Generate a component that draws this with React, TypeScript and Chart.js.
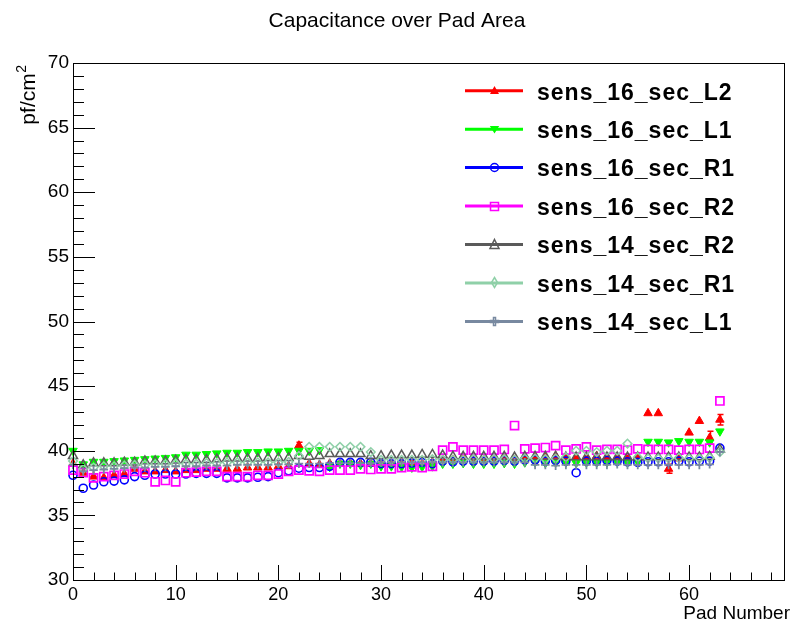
import React, { useEffect, useRef } from 'react';
import { Chart, registerables } from 'chart.js';

Chart.register(...registerables);

// ---------------- data ----------------
const padNumbers = [
  0, 1, 2, 3, 4, 5, 6, 7, 8, 9, 10, 11, 12, 13, 14, 15,
  16, 17, 18, 19, 20, 21, 22, 23, 24, 25, 26, 27, 28, 29, 30, 31,
  32, 33, 34, 35, 36, 37, 38, 39, 40, 41, 42, 43, 44, 45, 46, 47,
  48, 49, 50, 51, 52, 53, 54, 55, 56, 57, 58, 59, 60, 61, 62, 63,
];

const sens16L2 = [
  39.0, 38.3, 38.0, 37.9, 38.1, 38.2, 38.6, 38.4, 38.4, 38.5, 38.4, 38.5, 38.5, 38.6, 38.6, 38.6,
  38.6, 38.7, 38.7, 38.7, 38.8, 38.8, 40.4, 39.0, 38.9, 39.0, 39.0, 39.0, 39.0, 39.0, 39.0, 39.0,
  39.1, 39.1, 39.0, 39.1, 39.3, 39.3, 39.4, 39.4, 39.3, 39.4, 39.4, 39.3, 39.5, 39.5, 39.5, 39.6,
  39.5, 39.5, 39.5, 39.6, 39.5, 39.5, 39.4, 39.4, 42.9, 42.9, 38.6, 39.4, 41.4, 42.3, 41.0, 42.4,
];
const sens16L2Err = [
  0, 0, 0, 0, 0, 0, 0, 0, 0, 0, 0, 0, 0, 0, 0, 0,
  0, 0, 0, 0, 0, 0, 0.25, 0, 0, 0, 0, 0, 0, 0, 0, 0,
  0, 0, 0, 0, 0, 0, 0, 0, 0, 0, 0, 0, 0, 0, 0, 0,
  0, 0, 0, 0, 0, 0, 0, 0, 0, 0, 0.35, 0, 0, 0, 0.5, 0.4,
];
const sens16L1 = [
  40.0, 38.95, 39.15, 39.15, 39.2, 39.25, 39.3, 39.35, 39.4, 39.45, 39.5, 39.7, 39.7, 39.75, 39.8, 39.85,
  39.85, 39.9, 39.9, 39.95, 39.95, 40.0, 40.0, 40.0, 40.05, 38.75, 39.0, 39.0, 38.9, 39.0, 38.8, 38.8,
  38.75, 38.7, 38.75, 38.8, 39.0, 39.0, 39.05, 39.0, 39.0, 39.0, 39.05, 39.0, 39.1, 39.1, 39.05, 39.1,
  39.1, 39.05, 39.1, 39.1, 39.1, 39.15, 39.1, 39.15, 40.7, 40.7, 40.65, 40.75, 40.7, 40.7, 40.65, 41.5,
];
const sens16R1 = [
  38.1, 37.1, 37.35, 37.6, 37.65, 37.75, 38.0, 38.1, 38.2, 38.2, 38.2, 38.2, 38.25, 38.25, 38.25, 37.9,
  37.9, 37.9, 37.95, 38.0, 38.3, 38.45, 38.65, 38.7, 38.7, 38.8, 39.1, 39.1, 39.1, 39.1, 39.0, 39.0,
  39.0, 39.05, 39.1, 39.0, 39.2, 39.15, 39.2, 39.2, 39.2, 39.2, 39.25, 39.2, 39.3, 39.3, 39.2, 39.25,
  39.2, 38.3, 39.2, 39.2, 39.25, 39.2, 39.15, 39.1, 39.15, 39.15, 39.15, 39.2, 39.15, 39.2, 39.2, 40.2,
];
const sens16R2 = [
  38.5, 38.3, 37.9, 38.0, 38.1, 38.2, 38.4, 38.3, 37.6, 37.7, 37.6, 38.3, 38.35, 38.4, 38.4, 38.0,
  38.0, 38.0, 38.1, 38.1, 38.2, 38.4, 38.5, 38.45, 38.4, 38.5, 38.5, 38.5, 38.6, 38.55, 38.6, 38.6,
  38.7, 38.75, 38.7, 38.8, 40.05, 40.3, 40.05, 40.05, 40.05, 40.05, 40.1, 41.95, 40.15, 40.2, 40.25, 40.4,
  40.05, 40.15, 40.3, 40.05, 40.1, 40.1, 40.05, 40.15, 40.1, 40.1, 40.1, 40.05, 40.1, 40.1, 40.2, 43.85,
];
const sens14R2 = [
  39.6, 38.9, 39.05, 39.05, 39.05, 39.1, 39.1, 39.2, 39.2, 39.2, 39.25, 39.3, 39.3, 39.3, 39.35, 39.4,
  39.4, 39.4, 39.4, 39.45, 39.45, 39.45, 39.6, 39.55, 39.6, 39.75, 39.75, 39.75, 39.75, 39.6, 39.6, 39.65,
  39.65, 39.65, 39.7, 39.7, 39.65, 39.55, 39.55, 39.55, 39.55, 39.55, 39.55, 39.5, 39.55, 39.55, 39.55, 39.55,
  39.5, 39.5, 39.5, 39.5, 39.5, 39.5, 39.5, 39.5, 39.5, 39.5, 39.5, 39.5, 39.5, 39.5, 39.55, 40.1,
];
const sens14R1 = [
  39.2, 38.6, 38.7, 38.8, 38.8, 38.85, 38.9, 38.9, 38.95, 38.95, 39.0, 39.0, 39.0, 39.05, 39.05, 39.1,
  39.1, 39.1, 39.1, 39.1, 39.1, 39.15, 39.6, 40.3, 40.3, 40.3, 40.3, 40.3, 40.3, 39.9, 39.3, 39.3,
  39.3, 39.3, 39.3, 39.35, 39.3, 39.3, 39.3, 39.35, 39.3, 39.35, 39.35, 39.3, 39.4, 39.4, 39.35, 39.4,
  39.5, 40.0, 40.0, 39.9, 40.0, 40.0, 40.55, 39.5, 39.4, 39.4, 39.4, 39.45, 39.4, 39.4, 39.45, 39.9,
];
const sens14L1 = [
  38.9, 38.4, 38.5, 38.55, 38.6, 38.65, 38.7, 38.7, 38.75, 38.75, 38.8, 38.8, 38.8, 38.85, 38.85, 38.85,
  38.9, 38.9, 38.9, 38.9, 38.95, 38.95, 39.0, 39.0, 39.0, 39.05, 39.05, 39.05, 39.05, 39.05, 39.1, 39.1,
  39.1, 39.1, 39.1, 39.1, 39.1, 39.1, 39.1, 39.1, 39.1, 39.1, 39.1, 39.1, 39.1, 38.9, 38.9, 38.85,
  38.9, 38.9, 38.9, 38.9, 38.9, 38.95, 38.9, 38.9, 38.9, 38.9, 38.9, 38.9, 38.9, 38.9, 38.95, 39.9,
];

const seriesNames = [
  'sens_16_sec_L2', 'sens_16_sec_L1', 'sens_16_sec_R1', 'sens_16_sec_R2',
  'sens_14_sec_R2', 'sens_14_sec_R1', 'sens_14_sec_L1',
];
const seriesValues = [sens16L2, sens16L1, sens16R1, sens16R2, sens14R2, sens14R1, sens14L1];
const seriesErrors: (number[] | null)[] = [sens16L2Err, null, null, null, null, null, null];

const xTickLabels = [0, 10, 20, 30, 40, 50, 60];
const yMin = 30;
const yMax = 70;
const xMin = 0;
const xMax = 69.3;

const titleText = 'Capacitance over Pad Area';
const xTitle = 'Pad Number';
const yTitleMain = 'pf/cm';
const yTitleSup = '2';

// ---------------- styles ----------------
const seriesColors = ['#ff0000', '#00ff00', '#0000ff', '#ff00ff', '#5a5a5a', '#8fd0a8', '#7889a0'];
const seriesMarkers = ['triUpFilled', 'triDownFilled', 'circle', 'square', 'triUpOpen', 'diamond', 'crossOpen'];
// native Chart.js point styles for the plot area
const pointStyles = ['triangle', 'triangle', 'circle', 'rect', 'triangle', 'rectRot', 'cross'];
const pointRotations = [0, 180, 0, 0, 0, 0, 0];
const pointRadii = [4.9, 4.9, 4, 5.7, 5.2, 4.3, 4.3];
const pointFilled = [true, true, false, false, false, false, false];
const pointBorderWidths = [1, 1, 1.6, 1.7, 1.5, 1.5, 1.8];

const FONT = '"Liberation Sans", Arial, Helvetica, sans-serif';
const MS = 15;

function makeMarker(kind: string, color: string): HTMLCanvasElement {
  const cv = document.createElement('canvas');
  cv.width = MS;
  cv.height = MS;
  const c = cv.getContext('2d')!;
  c.strokeStyle = color;
  c.fillStyle = color;
  c.lineWidth = 1.5;
  c.beginPath();
  switch (kind) {
    case 'triUpFilled':
      c.moveTo(7.5, 3);
      c.lineTo(12, 11);
      c.lineTo(3, 11);
      c.closePath();
      c.fill();
      break;
    case 'triDownFilled':
      c.moveTo(2.8, 4);
      c.lineTo(12.2, 4);
      c.lineTo(7.5, 11.5);
      c.closePath();
      c.fill();
      break;
    case 'circle':
      c.arc(7.5, 7.5, 4, 0, Math.PI * 2);
      c.stroke();
      break;
    case 'square':
      c.rect(3.5, 3.5, 8, 8);
      c.stroke();
      break;
    case 'triUpOpen':
      c.moveTo(7.5, 2.5);
      c.lineTo(12, 11.5);
      c.lineTo(3, 11.5);
      c.closePath();
      c.stroke();
      break;
    case 'diamond':
      c.moveTo(7.5, 2.5);
      c.lineTo(10.5, 7.5);
      c.lineTo(7.5, 12.5);
      c.lineTo(4.5, 7.5);
      c.closePath();
      c.stroke();
      break;
    case 'crossOpen':
      c.moveTo(6.5, 3.5);
      c.lineTo(8.5, 3.5);
      c.lineTo(8.5, 6.5);
      c.lineTo(11.5, 6.5);
      c.lineTo(11.5, 8.5);
      c.lineTo(8.5, 8.5);
      c.lineTo(8.5, 11.5);
      c.lineTo(6.5, 11.5);
      c.lineTo(6.5, 8.5);
      c.lineTo(3.5, 8.5);
      c.lineTo(3.5, 6.5);
      c.lineTo(6.5, 6.5);
      c.closePath();
      c.stroke();
      break;
  }
  return cv;
}

export default function App() {
  const canvasRef = useRef<HTMLCanvasElement | null>(null);

  useEffect(() => {
    const canvas = canvasRef.current;
    if (!canvas) return;
    const markers = seriesMarkers.map((k, i) => makeMarker(k, seriesColors[i]));

    const datasets = seriesNames.map((name, i) => ({
      label: name,
      data: padNumbers.map((p, j) => ({ x: p, y: seriesValues[i][j] })),
      showLine: false,
      pointStyle: pointStyles[i],
      rotation: pointRotations[i],
      pointRadius: pointRadii[i],
      pointBorderWidth: pointBorderWidths[i],
      borderWidth: pointBorderWidths[i],
      borderColor: seriesColors[i],
      pointBorderColor: seriesColors[i],
      backgroundColor: pointFilled[i] ? seriesColors[i] : 'rgba(0,0,0,0)',
      pointBackgroundColor: pointFilled[i] ? seriesColors[i] : 'rgba(0,0,0,0)',
      order: seriesNames.length - i,
      clip: false as any,
    }));

    const rootPlugin = {
      id: 'rootDecor',
      beforeDatasetsDraw(chart: any) {
        const ctx = chart.ctx;
        const xs = chart.scales.x;
        const ys = chart.scales.y;
        ctx.save();
        seriesErrors.forEach((errs, i) => {
          if (!errs) return;
          ctx.strokeStyle = seriesColors[i];
          ctx.lineWidth = 1.5;
          errs.forEach((e, j) => {
            if (!e) return;
            const px = Math.round(xs.getPixelForValue(padNumbers[j])) + 0.5;
            const y1 = ys.getPixelForValue(seriesValues[i][j] + e);
            const y2 = ys.getPixelForValue(seriesValues[i][j] - e);
            ctx.beginPath();
            ctx.moveTo(px, y1);
            ctx.lineTo(px, y2);
            ctx.moveTo(px - 3, y1);
            ctx.lineTo(px + 3, y1);
            ctx.moveTo(px - 3, y2);
            ctx.lineTo(px + 3, y2);
            ctx.stroke();
          });
        });
        ctx.restore();
      },
      afterDraw(chart: any) {
        const ctx = chart.ctx;
        const ca = chart.chartArea;
        const xs = chart.scales.x;
        const ys = chart.scales.y;
        ctx.save();
        // frame
        ctx.strokeStyle = '#000';
        ctx.lineWidth = 1;
        ctx.strokeRect(Math.round(ca.left) + 0.5, Math.round(ca.top) + 0.5,
          Math.round(ca.right - ca.left) - 1, Math.round(ca.bottom - ca.top));
        // y ticks
        ctx.beginPath();
        for (let v = yMin; v <= yMax; v += 1) {
          const py = Math.round(ys.getPixelForValue(v)) + 0.5;
          const len = v % 5 === 0 ? 22 : 11;
          ctx.moveTo(ca.left, py);
          ctx.lineTo(ca.left + len, py);
        }
        // x ticks
        for (let v = 0; v <= xMax; v += 2) {
          const px = Math.round(xs.getPixelForValue(v)) + 0.5;
          const len = v % 10 === 0 ? 15 : 7.5;
          ctx.moveTo(px, ca.bottom);
          ctx.lineTo(px, ca.bottom - len);
        }
        ctx.stroke();

        // title
        ctx.fillStyle = '#000';
        ctx.font = `21px ${FONT}`;
        ctx.textAlign = 'center';
        ctx.textBaseline = 'alphabetic';
        ctx.fillText(titleText, 397, 27);

        // x title
        ctx.font = `19px ${FONT}`;
        ctx.textAlign = 'right';
        ctx.fillText(xTitle, 790, 619);

        // y title (rotated)
        ctx.save();
        ctx.translate(35, 65);
        ctx.rotate(-Math.PI / 2);
        ctx.font = `14px ${FONT}`;
        ctx.textAlign = 'right';
        const supW = ctx.measureText(yTitleSup).width;
        ctx.fillText(yTitleSup, 0, -9);
        ctx.font = `21px ${FONT}`;
        ctx.fillText(yTitleMain, -supW - 0.5, 0);
        ctx.restore();

        // legend
        const rowY0 = 90.7;
        const rowDy = 38.45;
        seriesNames.forEach((name, i) => {
          const y = rowY0 + rowDy * i;
          ctx.strokeStyle = seriesColors[i];
          ctx.lineWidth = 3;
          ctx.beginPath();
          ctx.moveTo(465, y);
          ctx.lineTo(523, y);
          ctx.stroke();
          ctx.drawImage(markers[i], Math.round(494 - MS / 2), Math.round(y - MS / 2));
          ctx.fillStyle = '#000';
          ctx.font = `bold 23px ${FONT}`;
          (ctx as any).letterSpacing = '1px';
          ctx.textAlign = 'left';
          ctx.fillText(name, 537, y + 8.8);
          (ctx as any).letterSpacing = '0px';
        });
        ctx.restore();
      },
    };

    const chart = new Chart(canvas, {
      type: 'scatter',
      data: { datasets: datasets as any },
      options: {
        animation: false,
        responsive: false,
        devicePixelRatio: 1,
        events: [],
        layout: { padding: { top: 63, right: 2, left: 0, bottom: 0 } },
        plugins: {
          legend: { display: false },
          title: { display: false },
          tooltip: { enabled: false },
        },
        scales: {
          x: {
            type: 'linear',
            min: xMin,
            max: xMax,
            grid: { display: false, drawTicks: false },
            border: { display: false },
            afterBuildTicks: (axis: any) => {
              axis.ticks = xTickLabels.map((v) => ({ value: v }));
            },
            afterFit: (axis: any) => {
              axis.height = 46;
            },
            ticks: {
              color: '#000',
              font: { family: FONT, size: 18 },
              padding: 4,
              maxRotation: 0,
              autoSkip: false,
            },
          },
          y: {
            type: 'linear',
            min: yMin,
            max: yMax,
            grid: { display: false, drawTicks: false },
            border: { display: false },
            afterFit: (axis: any) => {
              axis.width = 73;
            },
            ticks: {
              stepSize: 5,
              color: '#000',
              font: { family: FONT, size: 19 },
              padding: 4,
            },
          },
        },
      },
      plugins: [rootPlugin],
    });

    return () => {
      chart.destroy();
    };
  }, []);

  return (
    <div style={{ position: 'absolute', left: 0, top: 0, width: 792, height: 626, background: '#fff' }}>
      <canvas ref={canvasRef} width={792} height={626} style={{ display: 'block', width: 792, height: 626 }} />
    </div>
  );
}
